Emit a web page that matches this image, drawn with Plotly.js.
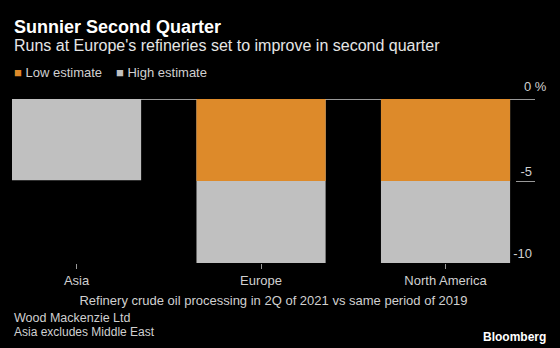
<!DOCTYPE html>
<html>
<head>
<meta charset="utf-8">
<script src="https://cdn.plot.ly/plotly-3.0.1.min.js"></script>
<style>html,body{margin:0;padding:0;background:#000;}#chart{width:560px;height:348px;}</style>
</head>
<body>
<div id="chart"></div>
<script>
// Data
const regions = ["Asia", "Europe", "North America"];
const lowEstimate = [null, -5.0, -5.0];
const highEstimate = [-4.95, -10.0, -10.0];
const yTickVals = [-10, -5, 0];
const yTickText = ["-10", "-5", ""];
const topTickLabel = "0 %";

const FONT = "Liberation Sans, Arial, sans-serif";
const ORANGE = "#DD8A2A";
const GRAY = "#C0C0C0";

const traces = [
  {type: "bar", name: "High estimate", x: regions, y: highEstimate,
   marker: {color: GRAY}, showlegend: false, hoverinfo: "skip"},
  {type: "bar", name: "Low estimate", x: regions, y: lowEstimate,
   marker: {color: ORANGE}, showlegend: false, hoverinfo: "skip"}
];

function py(px) { return (263 - px) / 164; }
function pxX(px) { return (px - 12) / 523; }

const layout = {
  width: 560, height: 348,
  paper_bgcolor: "#000", plot_bgcolor: "#000",
  font: {family: FONT, color: "#d0d0d0", size: 13},
  margin: {l: 12, r: 25, t: 99, b: 85, pad: 0},
  barmode: "overlay",
  bargap: 0.30,
  showlegend: false,
  xaxis: {
    type: "category",
    range: [-0.35, 2.485],
    showgrid: false, zeroline: false, showline: false,
    ticks: "outside", ticklen: 5, tickwidth: 1, tickcolor: "#999",
    tickfont: {size: 13, color: "#d0d0d0"},
    title: {text: "Refinery crude oil processing in 2Q of 2021 vs same period of 2019",
            font: {size: 13, color: "#d0d0d0"}, standoff: 9}
  },
  yaxis: {
    side: "right",
    range: [-10, 0],
    tickvals: yTickVals, ticktext: yTickText,
    ticks: "inside", ticklen: 19, tickwidth: 1, tickcolor: "#999",
    ticklabelposition: "inside top",
    tickfont: {size: 13, color: "#d0d0d0"},
    showgrid: false, showline: false,
    zeroline: true, zerolinecolor: "#999", zerolinewidth: 1
  },
  annotations: [
    {xref: "paper", yref: "paper", x: 0, y: py(27), xanchor: "left", yanchor: "middle",
     text: "<b>Sunnier Second Quarter</b>", showarrow: false,
     font: {size: 18, color: "#ffffff", family: FONT}},
    {xref: "paper", yref: "paper", x: 0, y: py(46), xanchor: "left", yanchor: "middle",
     text: "Runs at Europe's refineries set to improve in second quarter", showarrow: false,
     font: {size: 16, color: "#e6e6e6", family: FONT}},
    {xref: "paper", yref: "paper", x: 0, y: py(72), xanchor: "left", yanchor: "middle",
     text: '<span style="color:' + ORANGE + '">■</span> Low estimate', showarrow: false,
     font: {size: 13, color: "#d0d0d0", family: FONT}},
    {xref: "paper", yref: "paper", x: pxX(114), y: py(72), xanchor: "left", yanchor: "middle",
     text: '<span style="color:' + GRAY + '">■</span> High estimate', showarrow: false,
     font: {size: 13, color: "#d0d0d0", family: FONT}},
    {xref: "paper", yref: "paper", x: pxX(549), y: py(87), xanchor: "right", yanchor: "middle",
     text: topTickLabel, showarrow: false,
     font: {size: 13, color: "#d0d0d0", family: FONT}},
    {xref: "paper", yref: "paper", x: 0, y: py(318), xanchor: "left", yanchor: "middle",
     text: "Wood Mackenzie Ltd", showarrow: false,
     font: {size: 12.5, color: "#d0d0d0", family: FONT}},
    {xref: "paper", yref: "paper", x: 0, y: py(332), xanchor: "left", yanchor: "middle",
     text: "Asia excludes Middle East", showarrow: false,
     font: {size: 12, color: "#d0d0d0", family: FONT}},
    {xref: "paper", yref: "paper", x: pxX(548), y: py(337), xanchor: "right", yanchor: "middle",
     text: "<b>Bloomberg</b>", showarrow: false,
     font: {size: 12, color: "#ffffff", family: FONT}}
  ]
};

Plotly.newPlot("chart", traces, layout, {staticPlot: true, displayModeBar: false});
</script>
</body>
</html>
